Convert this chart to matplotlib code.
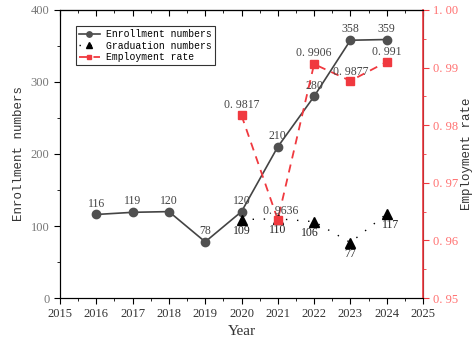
import matplotlib.pyplot as plt
from matplotlib.ticker import MultipleLocator

years = [2016, 2017, 2018, 2019, 2020, 2021, 2022, 2023, 2024]
enrollment = [116, 119, 120, 78, 120, 210, 280, 358, 359]

grad_years = [2020, 2021, 2022, 2023, 2024]
graduation = [109, 110, 106, 77, 117]
employment = [0.9817, 0.9636, 0.9906, 0.9877, 0.991]

serif = 'Liberation Serif'
mono = 'Liberation Mono'
red = '#f0393f'
pink = '#ff7070'

fig = plt.figure(figsize=(4.74, 3.47), dpi=100)
ax = fig.add_axes([0.1266, 0.1412, 0.7658, 0.83])
ax2 = ax.twinx()

ax.plot(years, enrollment, color='#444444', lw=1.2, marker='o', ms=6,
        mfc='#505050', mec='#505050', label='Enrollment numbers', zorder=3)
ax.plot(grad_years, graduation, color='black', lw=1.0, ls=(0, (1, 7)),
        marker='^', ms=7, label='Graduation numbers', zorder=3)
ax2.plot(grad_years, employment, color=red, lw=1.3, ls=(0, (4.5, 3.5)),
         marker='s', ms=5.5, label='Employment rate', zorder=3)

# value labels
for x, v in zip(years, enrollment):
    ax.annotate(str(v), (x, v), xytext=(0, 3.5), textcoords='offset points',
                ha='center', va='bottom', fontsize=8.5, family=serif,
                color='#444444')
grad_off = {2022: (-3, -4), 2024: (3, -4)}
for x, v in zip(grad_years, graduation):
    dx, dy = grad_off.get(x, (0, -4))
    ax.annotate(str(v), (x, v), xytext=(dx, dy), textcoords='offset points',
                ha='center', va='top', fontsize=8.5, family=serif,
                color='#222222')
emp_off = {2020: (0, 3), 2021: (2, 2), 2022: (0, 4), 2023: (0, 2), 2024: (0, 3)}
for x, v in zip(grad_years, employment):
    dx, dy = emp_off[x]
    ax2.annotate('0. ' + str(v)[2:], (x, v), xytext=(dx, dy),
                 textcoords='offset points', ha='center', va='bottom',
                 fontsize=8.5, family=serif, color='#444444')

ax.set_xlim(2015, 2025)
ax.set_ylim(0, 400)
ax2.set_ylim(0.95, 1.00)
ax.xaxis.set_major_locator(MultipleLocator(1))
ax.xaxis.set_minor_locator(MultipleLocator(0.5))
ax.yaxis.set_major_locator(MultipleLocator(100))
ax.yaxis.set_minor_locator(MultipleLocator(50))
ax2.yaxis.set_major_locator(MultipleLocator(0.01))
ax2.yaxis.set_minor_locator(MultipleLocator(0.005))
ax2.yaxis.set_major_formatter(lambda v, p: '0. ' + f'{v:.2f}'[2:] if v < 0.999 else '1. 00')

ax.tick_params(axis='x', which='both', direction='out', labelsize=9,
               labelcolor='#333333')
ax.tick_params(axis='x', which='major', length=4)
ax.tick_params(axis='x', which='minor', length=2)
ax.tick_params(axis='y', which='major', length=4, labelsize=9, labelcolor='#777777')
ax.tick_params(axis='y', which='minor', length=2)
ax2.tick_params(axis='y', which='major', length=4, color=red, labelsize=9,
                labelcolor=pink)
ax2.tick_params(axis='y', which='minor', length=2, color=red)
for lab in ax.get_xticklabels() + ax.get_yticklabels() + ax2.get_yticklabels():
    lab.set_family(serif)

# top axis carries inward ticks only
top = ax.secondary_xaxis('top')
top.xaxis.set_major_locator(MultipleLocator(1))
top.xaxis.set_minor_locator(MultipleLocator(0.5))
top.tick_params(which='both', direction='in', labeltop=False)
top.tick_params(which='major', length=4)
top.tick_params(which='minor', length=2)

ax2.spines['right'].set_color(red)
ax2.spines['right'].set_linewidth(1.2)
for s in ['left', 'top', 'bottom']:
    ax.spines[s].set_color('#222222')

ax.set_xlabel('Year', fontsize=11, family=serif, color='#333333', labelpad=3)
ax.set_ylabel('Enrollment numbers', fontsize=9, family=mono, color='#333333', labelpad=4)
ax2.set_ylabel('Employment rate', fontsize=9, family=mono, color='#333333', labelpad=2)

h1, l1 = ax.get_legend_handles_labels()
h2, l2 = ax2.get_legend_handles_labels()
leg = ax.legend(h1 + h2, l1 + l2, loc='upper left', bbox_to_anchor=(0.03, 0.96),
                prop={'family': mono, 'size': 7}, frameon=True, fancybox=False,
                edgecolor='black', handlelength=2.2, borderpad=0.3,
                labelspacing=0.15, handletextpad=0.6, markerscale=0.65)
leg.get_frame().set_linewidth(0.8)

fig.savefig('out.png', dpi=100)
